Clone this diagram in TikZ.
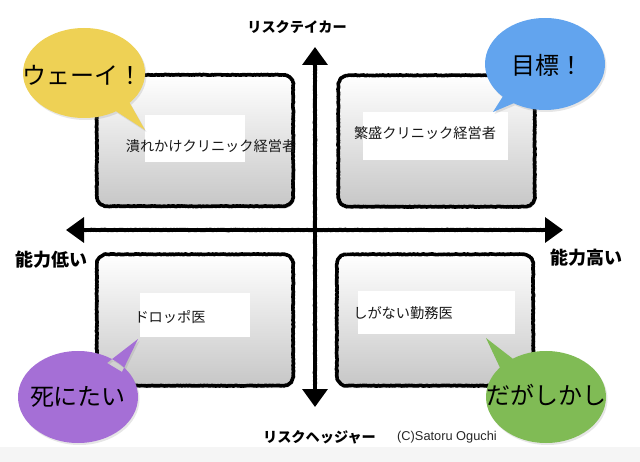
\documentclass[tikz,border=0pt]{standalone}
\usepackage{fontspec}
\newfontfamily\jp{Noto Sans CJK JP}
\newfontfamily\lib{Liberation Sans}
\usetikzlibrary{arrows.meta,decorations.pathmorphing,shadows,calc}
\definecolor{yelb}{HTML}{EED155}
\definecolor{blub}{HTML}{62A4EE}
\definecolor{purb}{HTML}{A56FD6}
\definecolor{greb}{HTML}{80BB55}
\newcommand\chalkbox[1]{%
  \draw[chalk] ($(#1.north west)+(10,0)$) -- ($(#1.north east)+(-10,0)$)
    arc[start angle=90,end angle=0,radius=10pt] -- ($(#1.south east)+(0,-10)$)
    arc[start angle=0,end angle=-90,radius=10pt] -- ($(#1.south west)+(10,0)$)
    arc[start angle=-90,end angle=-180,radius=10pt] -- ($(#1.north west)+(0,10)$)
    arc[start angle=180,end angle=90,radius=10pt] -- cycle;}
\begin{document}
\begin{tikzpicture}[x=1pt,y=-1pt,
  qbox/.style={rectangle, rounded corners=10pt, top color=white, bottom color=black!22,
    minimum width=196pt, minimum height=131pt, inner sep=0pt,
    drop shadow={opacity=0.25, shadow xshift=1.5pt, shadow yshift=-2.5pt}},
  chalk/.style={line width=3.6pt, draw=black, line join=round, decorate,
    decoration={random steps, segment length=1pt, amplitude=0.4pt}},
  wbox/.style={rectangle, fill=white, inner sep=0pt},
  btext/.style={font=\jp\fontsize{14.2}{16}\selectfont, text=black!90, inner sep=0pt},
  axlab/.style={font=\jp\bfseries\fontsize{14.2}{16}\selectfont, inner sep=0pt},
  sidelab/.style={font=\jp\bfseries\fontsize{18}{20}\selectfont, inner sep=0pt},
  bubble/.style={drop shadow={opacity=0.2, shadow xshift=1.5pt, shadow yshift=-2pt}},
  bubtext/.style={font=\jp\fontsize{24}{26}\selectfont, inner sep=0pt},
  axis/.style={line width=3.5pt, {Triangle[length=18pt,width=25pt]}-{Triangle[length=18pt,width=25pt]}},
]
\useasboundingbox (0,0) rectangle (640,462);
\fill[black!4] (0,447) rectangle (640,462);

% quadrant boxes
\node[qbox] (tl) at (195,140.5) {};
\node[qbox] (tr) at (436.5,141) {};
\node[qbox] (bl) at (195,320) {};
\node[qbox] (br) at (435,320) {};
\chalkbox{tl}
\chalkbox{tr}
\chalkbox{bl}
\chalkbox{br}

% white label panels
\node[wbox, minimum width=100pt, minimum height=47pt] (tlw) at (195,138.5) {};
\node[wbox, minimum width=145pt, minimum height=48pt] (trw) at (435.5,136) {};
\node[wbox, minimum width=110pt, minimum height=44pt] (blw) at (195,315) {};
\node[wbox, minimum width=157pt, minimum height=43pt] (brw) at (436.5,312.5) {};

\node[btext] (tlt) at (211,146) {潰れかけクリニック経営者};
\node[btext] (trt) at (425,133) {繁盛クリニック経営者};
\node[btext] (blt) at (170,317) {ドロッポ医};
\node[btext] (brt) at (403,313) {しがない勤務医};

% axes
\coordinate (vtop) at (315,47);
\coordinate (vbot) at (315,407);
\coordinate (hleft) at (66,230);
\coordinate (hright) at (563,230);
\draw[axis] (vbot) -- (vtop);
\draw[axis] (hleft) -- (hright);
\draw[chalk, line width=3.8pt] (315,60) -- (315,394);
\draw[chalk, line width=3.8pt] (80,230) -- (549,230);

% axis labels
\node[axlab] (top) at (297,27) {リスクテイカー};
\node[axlab] (bot) at (319.5,437) {リスクヘッジャー};
\node[sidelab] (left) at (51.5,260) {能力低い};
\node[sidelab] (right) at (586,258) {能力高い};
\node[font=\lib\fontsize{12.8}{14}\selectfont, text=black!85, inner sep=0pt] (copy) at (447,437) {(C)Satoru Oguchi};

% bubbles
\fill[yelb, bubble] (84,73) ellipse [x radius=61pt, y radius=45pt]
  (111,108) -- (145,130) -- (128,100) -- cycle;
\node[bubtext] (yt) at (83,75) {ウェーイ！};
\fill[blub, bubble] (545,64) ellipse [x radius=60pt, y radius=46pt]
  (505,93) -- (493,112) -- (519,101) -- cycle;
\node[bubtext] (bt) at (547,65) {目標！};
\fill[purb, bubble] (78,397) ellipse [x radius=60pt, y radius=46pt]
  (107,363) -- (138,339) -- (122,372) -- cycle;
\node[bubtext] (pt) at (78,397) {死にたい};
\fill[greb, bubble] (546,397) ellipse [x radius=60pt, y radius=46pt]
  (517,362) -- (486,338) -- (502,372) -- cycle;
\node[bubtext] (gt) at (546,395) {だがしかし};
\end{tikzpicture}
\end{document}
